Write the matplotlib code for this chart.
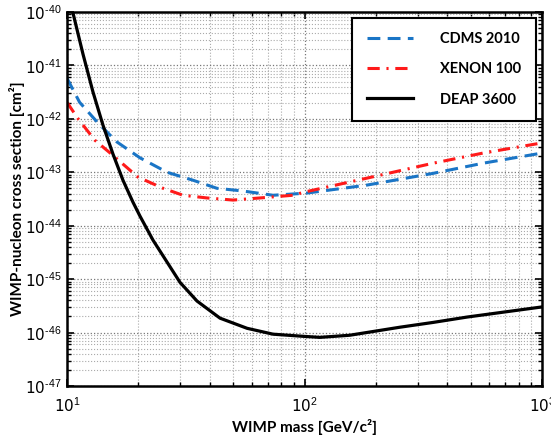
import numpy as np
import matplotlib
matplotlib.use("Agg")
import matplotlib.pyplot as plt
from matplotlib.ticker import LogLocator, NullFormatter, FuncFormatter

plt.rcParams["mathtext.fontset"] = "custom"
plt.rcParams["mathtext.rm"] = "Liberation Sans"
plt.rcParams["mathtext.it"] = "Liberation Sans"
plt.rcParams["mathtext.bf"] = "Liberation Sans:bold"

# CDMS 2010 (blue dashed)  -- log10 of cross section [cm^2]
cdms_mass = [10, 11.3, 13.4, 16.2, 20.3, 26.4, 34, 42.8, 55, 73.7, 102, 183, 348, 565, 1000]
cdms_logsigma = [-41.24, -41.69, -42.06, -42.43, -42.73, -43.0, -43.15, -43.30, -43.35,
                 -43.43, -43.39, -43.24, -43.02, -42.83, -42.64]
# XENON 100 (red dash-dot)
xenon_mass = [10, 11.1, 13.1, 15.2, 19.9, 25.4, 30.8, 38.8, 50, 65, 89.5, 100, 183, 348, 565, 1000]
xenon_logsigma = [-41.69, -41.99, -42.40, -42.64, -43.09, -43.30, -43.43, -43.48, -43.52,
                  -43.48, -43.43, -43.37, -43.11, -42.83, -42.64, -42.45]
# DEAP 3600 (black solid)
deap_mass = [10.6, 11.68, 12.87, 14.18, 15.62, 17.21, 18.96, 20.29, 23.02, 26.37, 29.91,
             35.27, 44.07, 57.3, 73.7, 98.6, 116, 155, 252, 348, 483, 1000]
deap_logsigma = [-40.02, -40.79, -41.50, -42.12, -42.66, -43.15, -43.56, -43.82, -44.27,
                 -44.68, -45.06, -45.41, -45.73, -45.92, -46.03, -46.07, -46.09, -46.05,
                 -45.90, -45.81, -45.71, -45.52]

labels = ["CDMS 2010", "XENON 100", "DEAP 3600"]

fig = plt.figure(figsize=(5.51, 4.43), dpi=100)
ax = fig.add_axes([67/551, 57/443, 475/551, 374/443])

ax.plot(cdms_mass, 10.0 ** np.array(cdms_logsigma), color="#1a75c6", lw=2.2,
        dashes=(4.2, 2.4), label=labels[0])
ax.plot(xenon_mass, 10.0 ** np.array(xenon_logsigma), color="#ff1a1a", lw=2.2,
        dashes=(4.0, 2.2, 0.7, 2.2), label=labels[1])
ax.plot(deap_mass, 10.0 ** np.array(deap_logsigma), color="black", lw=2.3, label=labels[2])

ax.set_xscale("log")
ax.set_yscale("log")
ax.set_xlim(10, 1000)
ax.set_ylim(1e-47, 1e-40)
ax.yaxis.set_major_locator(LogLocator(base=10, numticks=20))
ax.yaxis.set_minor_locator(LogLocator(base=10, subs=np.arange(2, 10), numticks=100))
ax.yaxis.set_minor_formatter(NullFormatter())
ax.xaxis.set_minor_formatter(NullFormatter())


def fmt(v, pos):
    e = int(round(np.log10(v)))
    return r"$\mathregular{10^{\text{%d}}}$" % e


ax.xaxis.set_major_formatter(FuncFormatter(fmt))
ax.yaxis.set_major_formatter(FuncFormatter(fmt))

ax.grid(True, which="major", linestyle=":", color="#777777", lw=0.9)
ax.grid(True, which="minor", linestyle=":", color="#aaaaaa", lw=0.8)

for s in ax.spines.values():
    s.set_linewidth(1.8)
ax.tick_params(which="both", direction="in", top=True, right=True)
ax.tick_params(which="major", length=5, width=1.2, labelsize=11, pad=4)
ax.tick_params(axis="x", which="major", pad=7)
ax.tick_params(which="minor", length=3, width=1.0)

ax.set_xlabel("WIMP mass [GeV/c²]", fontsize=11, fontweight="bold", family="Lato", labelpad=3)
ax.set_ylabel("WIMP-nucleon cross section [cm²]", fontsize=11, fontweight="bold", family="Lato")
ax.yaxis.set_label_coords(-(67 - 25) / 475, 0.5)

leg = ax.legend(loc="upper right", prop={"family": "Lato", "weight": "bold", "size": 10.5},
                fancybox=False, edgecolor="black", framealpha=1, handlelength=3.2,
                borderpad=1.0, labelspacing=1.1, handletextpad=1.85, borderaxespad=0.4)
leg.get_frame().set_linewidth(1.5)

fig.savefig("out.png", dpi=100)
